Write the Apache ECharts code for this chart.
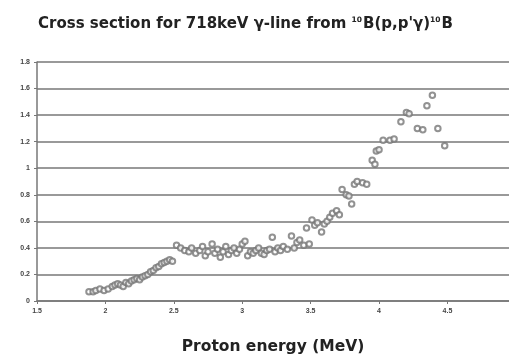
<!DOCTYPE html>
<html><head><meta charset="utf-8">
<script src="https://cdn.jsdelivr.net/npm/echarts@6/dist/echarts.min.js"></script>
<style>html,body{margin:0;padding:0;background:#fff}#c{width:509px;height:360px}</style>
</head><body><div id="c"></div>
<script>
const energy = [1.88,1.91,1.93,1.96,1.99,2.02,2.05,2.07,2.09,2.11,2.13,2.15,2.17,2.19,2.21,2.23,2.25,2.27,2.29,2.31,2.33,2.35,2.37,2.39,2.41,2.43,2.45,2.47,2.49,
2.52,2.55,2.58,2.61,2.63,2.66,2.69,2.71,2.73,2.75,2.78,2.80,2.82,2.84,2.86,2.88,2.90,2.92,2.94,2.96,2.98,3.00,3.02,3.04,3.06,3.08,3.10,3.12,3.14,3.16,3.18,3.20,3.22,3.24,3.26,3.28,3.30,
3.33,3.36,3.38,3.40,3.42,3.45,3.47,3.49,3.51,3.53,3.55,3.58,3.60,3.62,3.64,3.66,3.69,3.71,3.73,3.76,3.78,3.80,3.82,3.84,3.88,3.91,3.95,3.97,3.98,4.00,4.03,4.08,4.11,4.16,4.20,4.22,4.28,4.32,4.35,4.39,4.43,4.48];
const crossSection = [0.07,0.07,0.08,0.09,0.08,0.09,0.11,0.12,0.13,0.12,0.11,0.14,0.13,0.15,0.16,0.17,0.16,0.18,0.19,0.20,0.22,0.23,0.25,0.26,0.28,0.29,0.30,0.31,0.30,
0.42,0.40,0.38,0.37,0.40,0.36,0.38,0.41,0.34,0.37,0.43,0.36,0.39,0.33,0.37,0.41,0.35,0.38,0.40,0.36,0.39,0.43,0.45,0.34,0.37,0.36,0.38,0.40,0.36,0.35,0.38,0.39,0.48,0.37,0.40,0.38,0.41,
0.39,0.49,0.40,0.44,0.46,0.42,0.55,0.43,0.61,0.57,0.59,0.52,0.58,0.60,0.63,0.66,0.68,0.65,0.84,0.80,0.79,0.73,0.88,0.90,0.89,0.88,1.06,1.03,1.13,1.14,1.21,1.21,1.22,1.35,1.42,1.41,1.30,1.29,1.47,1.55,1.30,1.17];
const xTicks = {min:1.5, max:4.95, step:0.5};
const yTicks = {min:0, max:1.8, step:0.2};
const titleText = "Cross section for 718keV γ-line from ";
const xName = "Proton energy (MeV)";

const chart = echarts.init(document.getElementById('c'), null, {renderer:'canvas'});
const pts = energy.map((e,i)=>[e, crossSection[i]]);
const FF = 'DejaVu Sans, Verdana, sans-serif';
chart.setOption({
  animation:false,
  backgroundColor:'#fff',
  title:{
    text:'{t|'+titleText+'}{s|10}{t|B(p,p\'γ)}{s|10}{t|B}',
    left:33, top:11,
    textStyle:{rich:{
      t:{fontFamily:FF, fontWeight:'bold', fontSize:15, color:'#222', verticalAlign:'bottom'},
      s:{fontFamily:FF, fontWeight:'bold', fontSize:7.5, color:'#222', verticalAlign:'top', padding:[0,1,8,0]}
    }}
  },
  grid:{left:37, top:62, right:0, bottom:53, containLabel:false},
  xAxis:{
    type:'value', min:xTicks.min, max:xTicks.max, interval:xTicks.step,
    name:xName, nameLocation:'middle', nameGap:38,
    nameTextStyle:{fontFamily:FF, fontWeight:'bold', fontSize:15.5, color:'#222'},
    axisLine:{show:true, onZero:false, lineStyle:{color:'#777', width:1.5}},
    axisTick:{show:true, length:3, lineStyle:{color:'#777'}},
    axisLabel:{fontSize:7, fontWeight:'bold', color:'#444', margin:7, showMaxLabel:false,
      formatter:v=>String(+v.toFixed(1))},
    splitLine:{show:false}
  },
  yAxis:{
    type:'value', min:yTicks.min, max:yTicks.max, interval:yTicks.step,
    axisLine:{show:true, lineStyle:{color:'#777', width:1.5}},
    axisTick:{show:true, length:3, lineStyle:{color:'#777'}},
    axisLabel:{fontSize:7, fontWeight:'bold', color:'#444', margin:7,
      formatter:v=>String(+v.toFixed(1))},
    splitLine:{show:true, lineStyle:{color:'#999', width:2}}
  },
  series:[{
    type:'scatter', data:pts, symbol:'emptyCircle', symbolSize:5.5,
    itemStyle:{color:'#777', borderColor:'#777', borderWidth:1}
  }]
});
</script></body></html>
